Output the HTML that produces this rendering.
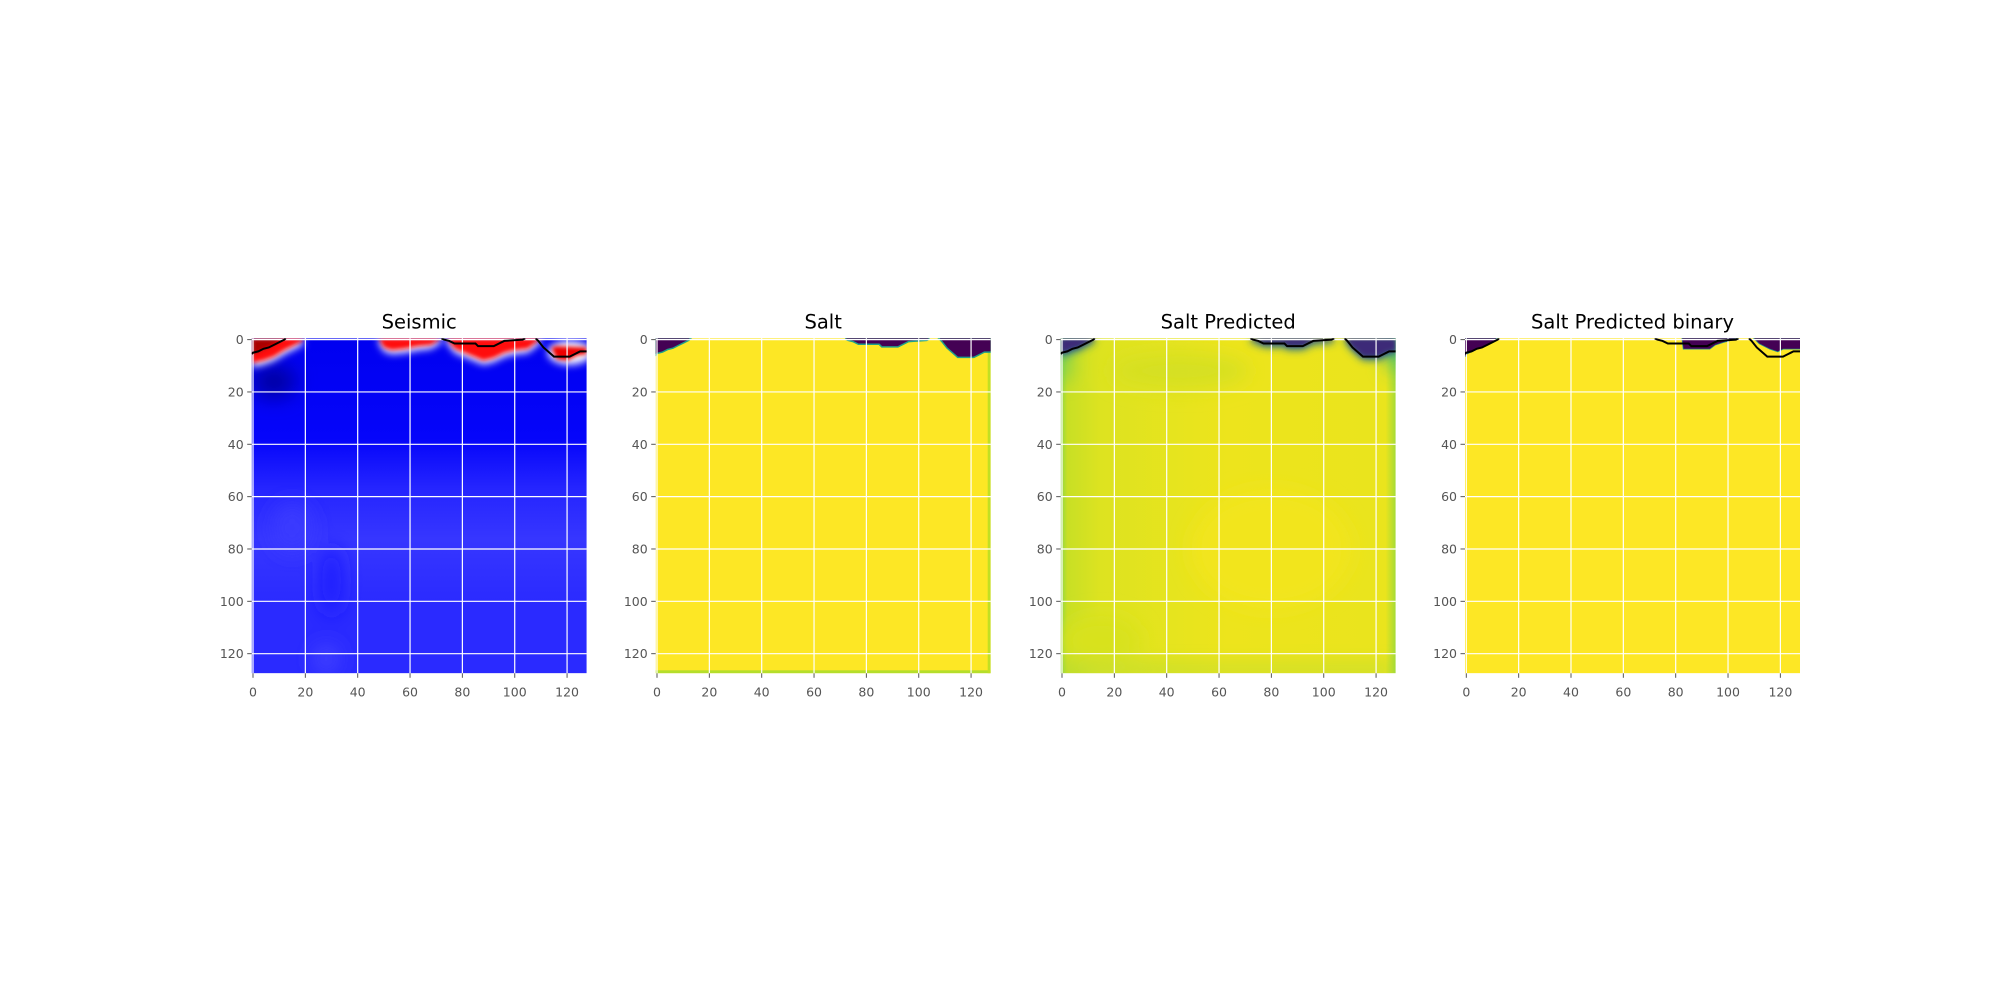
<!DOCTYPE html>
<html><head><meta charset="utf-8"><style>
html,body{margin:0;padding:0;background:#fff;}
svg{display:block;}
text{font-family:"DejaVu Sans","Liberation Sans",sans-serif;}
</style></head><body>
<svg id="fig" width="2000" height="1000" viewBox="0 0 2000 1000" xmlns="http://www.w3.org/2000/svg">
<defs>
<filter id="blur2" x="-20%" y="-20%" width="140%" height="140%"><feGaussianBlur stdDeviation="2"/></filter>
<filter id="blur4" x="-20%" y="-50%" width="140%" height="200%"><feGaussianBlur stdDeviation="4"/></filter>
<filter id="blur10" x="-50%" y="-50%" width="200%" height="200%"><feGaussianBlur stdDeviation="10"/></filter>
<linearGradient id="seisGrad" x1="0" y1="0" x2="0" y2="1">
<stop offset="0" stop-color="#0000f0"/><stop offset="0.3" stop-color="#0505fa"/><stop offset="0.45" stop-color="#2525ff"/><stop offset="0.6" stop-color="#3636ff"/><stop offset="0.8" stop-color="#2a2aff"/><stop offset="1" stop-color="#2a2aff"/>
</linearGradient>
<linearGradient id="predGradX" x1="0" y1="0" x2="1" y2="0">
<stop offset="0" stop-color="#8fd744"/><stop offset="0.02" stop-color="#c8df25"/><stop offset="0.12" stop-color="#dde320"/><stop offset="0.5" stop-color="#ede41c"/><stop offset="0.97" stop-color="#eae41d"/><stop offset="1" stop-color="#a5db36"/>
</linearGradient>
</defs>
</svg>
<script>
// Panel layout
const panelLeft = [251.7, 655.7, 1060.7, 1465];
const panelTop = 338.3, panelSize = 335;
const titles = ["Seismic", "Salt", "Salt Predicted", "Salt Predicted binary"];
const tickValues = [0, 20, 40, 60, 80, 100, 120];
const tickLabels = ["0", "20", "40", "60", "80", "100", "120"];
const extentMin = -0.5, extentMax = 127.5;

// Salt mask contour segments (x, y in pixel-index units)
const contour1X = [-0.5, 0, 2, 4, 6, 8, 10, 12, 12.5];
const contour1Y = [5.5, 5, 4.5, 3.5, 3, 2, 1, 0, -0.5];
const contour2X = [72, 73, 75, 77, 85, 86, 92, 94, 96, 103, 104];
const contour2Y = [-0.5, 0, 0.5, 1.5, 1.5, 2.5, 2.5, 1.5, 0.5, 0, -0.5];
const contour3X = [108, 109, 111, 115, 121, 123, 124, 125, 127.5];
const contour3Y = [-0.5, 0.5, 3, 6.5, 6.5, 5.5, 5, 4.5, 4.5];

// Predicted binary mask regions
const bin1X = [-0.5, 0, 2, 4, 6, 8, 10, 11.5];
const bin1Y = [6.5, 5.5, 4.5, 3.5, 3, 2, 1, -0.5];
const bin2X = [82.5, 83, 86, 93, 95, 98, 103.5];
const bin2Y = [-0.5, 3.5, 3.5, 3.5, 2, 1, -0.5];
const bin3X = [110, 112, 116, 119, 121, 124, 127.5];
const bin3Y = [-0.5, 1.5, 3.5, 4.5, 3.5, 3.5, 3.5];

// Seismic red (positive amplitude) regions along top
const red1X = [-0.5, 4, 8, 12, 16, 19, 19];
const red1Y = [9, 8, 6.5, 4, 2, 0.5, -0.5];
const red2X = [48, 50, 53, 58, 63, 68, 72];
const red2Y = [-0.5, 3, 4, 3.5, 2.5, 2, -0.5];
const red3X = [74, 77, 82, 88, 92, 96, 100, 105, 110];
const red3Y = [-0.5, 3.5, 5.5, 8, 7, 5, 4, 3.5, -0.5];
const red4X = [114, 116, 120, 124, 127.5];
const red4Y = [3, 7.5, 8, 6, 5.5];

const svg = document.getElementById('fig');
const NS = 'http://www.w3.org/2000/svg';
function mk(tag, attrs, parent) {
  const e = document.createElementNS(NS, tag);
  for (const k in attrs) e.setAttribute(k, attrs[k]);
  (parent || svg).appendChild(e);
  return e;
}
function sx(p, v) { return panelLeft[p] + (v - extentMin) / (extentMax - extentMin) * panelSize; }
function sy(v) { return panelTop + (v - extentMin) / (extentMax - extentMin) * panelSize; }
function polyFromTop(p, xs, ys) {
  let pts = [[sx(p, xs[0]), sy(-0.5)]];
  for (let i = 0; i < xs.length; i++) pts.push([sx(p, xs[i]), sy(ys[i])]);
  pts.push([sx(p, xs[xs.length - 1]), sy(-0.5)]);
  return pts.map(a => a[0].toFixed(2) + ',' + a[1].toFixed(2)).join(' ');
}
function polyLine(p, xs, ys) {
  return xs.map((x, i) => sx(p, x).toFixed(2) + ',' + sy(ys[i]).toFixed(2)).join(' ');
}
const contours = [[contour1X, contour1Y], [contour2X, contour2Y], [contour3X, contour3Y]];

for (let p = 0; p < 4; p++) {
  const g = mk('g', {});
  
  
  const cp = mk('clipPath', { id: 'clip' + p }, g);
  mk('rect', { x: panelLeft[p], y: panelTop, width: panelSize, height: panelSize }, cp);
  const img = mk('g', { 'clip-path': 'url(#clip' + p + ')' }, g);
  
  
  const L = panelLeft[p], T = panelTop, S = panelSize;
  if (p === 0) {
    mk('rect', { x: L, y: T, width: S, height: S, fill: 'url(#seisGrad)' }, img);
    const blobs = mk('g', { filter: 'url(#blur10)' }, img);
    mk('ellipse', { cx: sx(0, 30), cy: sy(92), rx: 10, ry: 35, fill: '#1a1aff' }, blobs);
    mk('ellipse', { cx: sx(0, 8), cy: sy(16), rx: 22, ry: 16, fill: '#0000a0' }, blobs);
    mk('ellipse', { cx: sx(0, 28), cy: sy(122), rx: 12, ry: 14, fill: '#4444ff' }, blobs);
    mk('ellipse', { cx: sx(0, 15), cy: sy(72), rx: 20, ry: 25, fill: '#3a3aff' }, blobs);
    const reds = [[red1X, red1Y], [red2X, red2Y], [red3X, red3Y]];
    const halo = mk('g', { filter: 'url(#blur4)' }, img);
    reds.forEach(r => mk('polygon', { points: polyFromTop(0, r[0], r[1].map(v => v + 1.5)), fill: '#ffffff' }, halo));
    mk('ellipse', { cx: sx(0, 121), cy: sy(5), rx: 22, ry: 12, fill: '#ffffff' }, halo);
    const rg = mk('g', { filter: 'url(#blur2)' }, img);
    reds.forEach(r => mk('polygon', { points: polyFromTop(0, r[0], r[1]), fill: '#ff1010' }, rg));
    mk('polygon', { points: polyLine(0, red4X, red4Y) + ' ' + sx(0, 127.5) + ',' + sy(3) + ' ' + sx(0, 116) + ',' + sy(2.5), fill: '#ee0000' }, rg);
    mk('polygon', { points: polyFromTop(0, [-0.5, 6, 12], [6, 3, -0.5]), fill: '#aa0000' }, rg);
  } else if (p === 1) {
    mk('rect', { x: L, y: T, width: S, height: S, fill: '#fde725' }, img);
    mk('rect', { x: L, y: T + S - 3, width: S, height: 3, fill: '#b5de2b' }, img);
    mk('rect', { x: L + S - 3, y: T, width: 3, height: S, fill: '#c2df23' }, img);
    contours.forEach(c => {
      mk('polygon', { points: polyFromTop(1, c[0], c[1]), fill: '#1fa088', stroke: '#1fa088', 'stroke-width': 3 }, img);
      mk('polygon', { points: polyFromTop(1, c[0], c[1]), fill: '#440154' }, img);
    });
  } else if (p === 2) {
    mk('rect', { x: L, y: T, width: S, height: S, fill: 'url(#predGradX)' }, img);
    const bl = mk('g', { filter: 'url(#blur10)' }, img);
    mk('ellipse', { cx: sx(2, 45), cy: sy(12), rx: 70, ry: 18, fill: '#d5e024' }, bl);
    mk('ellipse', { cx: sx(2, 15), cy: sy(115), rx: 40, ry: 25, fill: '#d8e21f' }, bl);
    mk('ellipse', { cx: sx(2, 80), cy: sy(80), rx: 80, ry: 60, fill: '#f2e51c' }, bl);
    mk('rect', { x: L, y: T + S - 5, width: S, height: 5, fill: '#8ed645' }, bl);
    mk('rect', { x: L - 10, y: T - 10, width: 18, height: 50, fill: '#6ccd5a' }, bl);
    mk('rect', { x: L + S - 8, y: T - 10, width: 18, height: 40, fill: '#3fbc73' }, bl);
    const dk = mk('g', { filter: 'url(#blur4)' }, img);
    contours.forEach(c => mk('polygon', { points: polyFromTop(2, c[0], c[1].map(v => v + 1.5)), fill: '#2c728e' }, dk));
    const dk2 = mk('g', { filter: 'url(#blur2)' }, img);
    contours.forEach(c => mk('polygon', { points: polyFromTop(2, c[0], c[1]), fill: '#3e2a78' }, dk2));
  } else {
    mk('rect', { x: L, y: T, width: S, height: S, fill: '#fde725' }, img);
    [[bin1X, bin1Y], [bin2X, bin2Y], [bin3X, bin3Y]].forEach(c => {
      mk('polygon', { points: polyFromTop(3, c[0], c[1]), fill: '#21918c', stroke: '#21918c', 'stroke-width': 1.5 }, img);
      mk('polygon', { points: polyFromTop(3, c[0], c[1]), fill: '#440154' }, img);
    });
  }
  const grid = mk('g', { stroke: '#ffffff', 'stroke-width': 1.2 }, g);
  
  
  tickValues.forEach(v => {
    mk('line', { x1: sx(p, v), y1: T, x2: sx(p, v), y2: T + S }, grid);
    mk('line', { x1: L, y1: sy(v), x2: L + S, y2: sy(v) }, grid);
  });
  if (p !== 1) {
    contours.forEach((c, i) => {
      const pl = mk('polyline', { points: polyLine(p, c[0], c[1]), fill: 'none', stroke: '#000', 'stroke-width': 2, 'clip-path': 'url(#clip' + p + ')' }, g);
      
      
    });
  }
  const ax = mk('g', {}, g);
  
  
  tickValues.forEach((v, i) => {
    const x = sx(p, v), y = sy(v);
    mk('line', { x1: x, y1: T + S, x2: x, y2: T + S + 4.5, stroke: '#555', 'stroke-width': 1 }, ax);
    const tx = mk('text', { x: x, y: T + S + 23, 'text-anchor': 'middle', 'font-size': 12.5, fill: '#555' }, ax);
    tx.textContent = tickLabels[i];
    
    
    mk('line', { x1: L - 4.5, y1: y, x2: L, y2: y, stroke: '#555', 'stroke-width': 1 }, ax);
    const ty = mk('text', { x: L - 8, y: y + 4.5, 'text-anchor': 'end', 'font-size': 12.5, fill: '#555' }, ax);
    ty.textContent = tickLabels[i];
    
    
  });
  const t = mk('text', { x: L + S / 2, y: 328.5, 'text-anchor': 'middle', 'font-size': 19.5, fill: '#000' }, g);
  t.textContent = titles[p];
  
  
}
</script>
</body></html>
